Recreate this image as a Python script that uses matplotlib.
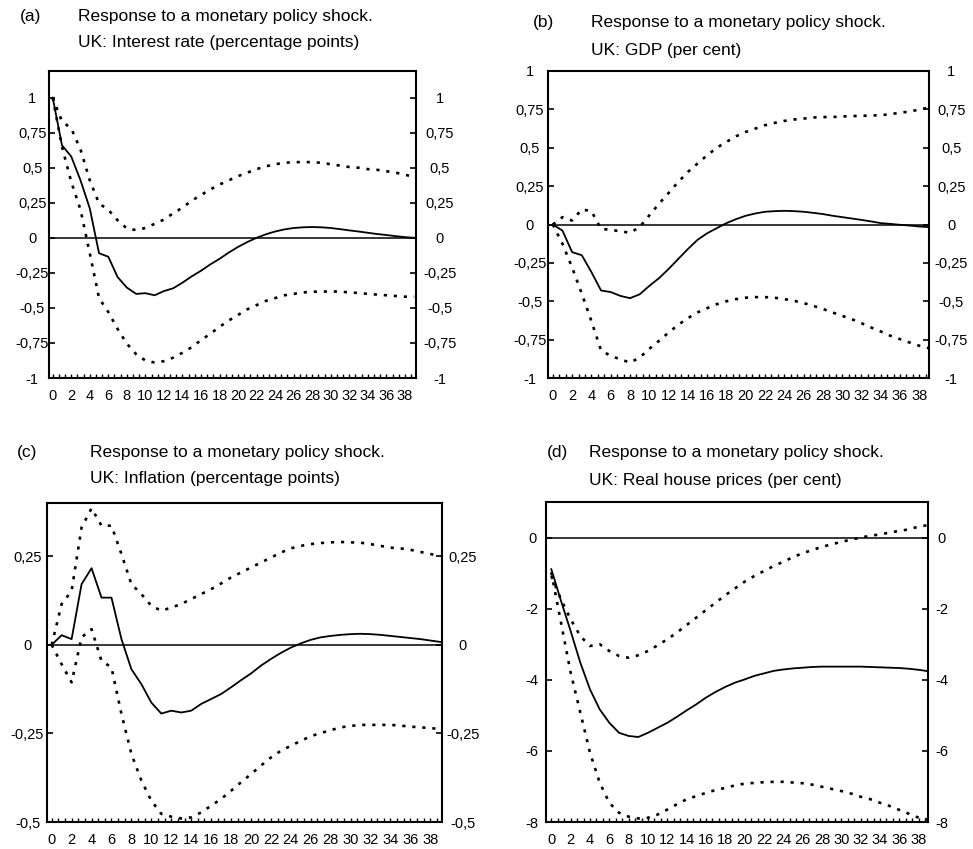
import numpy as np
import matplotlib
matplotlib.use("Agg")
import matplotlib.pyplot as plt
import matplotlib.transforms as mtransforms
from matplotlib import font_manager
from matplotlib.ticker import FixedLocator, MultipleLocator

# Horizon (quarters after the shock)
horizon = np.arange(40)

# (a) Interest rate
rate_mid = [1.0, 0.66, 0.58, 0.41, 0.21, -0.11, -0.135, -0.28, -0.355, -0.40,
            -0.395, -0.41, -0.38, -0.36, -0.32, -0.275, -0.235, -0.19, -0.15, -0.105,
            -0.065, -0.03, 0.0, 0.025, 0.045, 0.06, 0.07, 0.075, 0.077, 0.075,
            0.07, 0.062, 0.053, 0.045, 0.036, 0.027, 0.02, 0.012, 0.005, 0.0]
rate_hi = [1.0, 0.83, 0.78, 0.63, 0.41, 0.245, 0.20, 0.125, 0.067, 0.055,
           0.07, 0.10, 0.13, 0.175, 0.215, 0.265, 0.305, 0.345, 0.38, 0.41,
           0.44, 0.465, 0.49, 0.51, 0.525, 0.535, 0.54, 0.54, 0.54, 0.535,
           0.525, 0.515, 0.505, 0.50, 0.49, 0.485, 0.475, 0.465, 0.45, 0.435]
rate_lo = [1.0, 0.65, 0.40, 0.20, -0.11, -0.43, -0.53, -0.65, -0.755, -0.83,
           -0.875, -0.89, -0.88, -0.855, -0.82, -0.78, -0.73, -0.685, -0.635, -0.59,
           -0.55, -0.51, -0.48, -0.45, -0.43, -0.41, -0.40, -0.39, -0.385, -0.383,
           -0.383, -0.383, -0.39, -0.393, -0.40, -0.405, -0.41, -0.415, -0.42, -0.42]

# (b) GDP
gdp_mid = [0.0, -0.04, -0.18, -0.20, -0.31, -0.43, -0.44, -0.465, -0.48, -0.455,
           -0.40, -0.35, -0.29, -0.225, -0.16, -0.10, -0.057, -0.024, 0.009, 0.035,
           0.057, 0.072, 0.083, 0.087, 0.089, 0.087, 0.083, 0.076, 0.068, 0.057,
           0.048, 0.039, 0.03, 0.02, 0.009, 0.004, -0.002, -0.007, -0.013, -0.017]
gdp_hi = [0.0, 0.048, 0.026, 0.098, 0.087, -0.028, -0.035, -0.044, -0.054, -0.017,
          0.059, 0.135, 0.205, 0.277, 0.342, 0.397, 0.451, 0.50, 0.538, 0.575,
          0.603, 0.625, 0.647, 0.662, 0.675, 0.684, 0.69, 0.697, 0.70, 0.70,
          0.704, 0.706, 0.708, 0.71, 0.712, 0.719, 0.728, 0.736, 0.749, 0.762]
gdp_lo = [0.0, -0.126, -0.28, -0.45, -0.63, -0.82, -0.856, -0.878, -0.90, -0.867,
          -0.81, -0.758, -0.704, -0.654, -0.61, -0.573, -0.545, -0.519, -0.50, -0.486,
          -0.477, -0.473, -0.473, -0.477, -0.486, -0.497, -0.512, -0.53, -0.55, -0.573,
          -0.595, -0.617, -0.643, -0.671, -0.697, -0.725, -0.747, -0.769, -0.79, -0.806]

# (c) Inflation
infl_mid = [0.0, 0.027, 0.016, 0.171, 0.216, 0.133, 0.133, 0.016, -0.069, -0.111,
            -0.163, -0.194, -0.186, -0.191, -0.186, -0.167, -0.153, -0.139, -0.12, -0.10,
            -0.081, -0.059, -0.04, -0.023, -0.008, 0.004, 0.014, 0.021, 0.025, 0.028,
            0.03, 0.031, 0.03, 0.028, 0.025, 0.022, 0.019, 0.016, 0.012, 0.008]
infl_hi = [0.0, 0.115, 0.152, 0.331, 0.385, 0.336, 0.336, 0.256, 0.171, 0.143,
           0.11, 0.096, 0.105, 0.115, 0.129, 0.143, 0.157, 0.173, 0.19, 0.204,
           0.218, 0.232, 0.246, 0.26, 0.272, 0.279, 0.284, 0.287, 0.289, 0.29,
           0.289, 0.288, 0.284, 0.279, 0.274, 0.272, 0.268, 0.262, 0.256, 0.251]
infl_lo = [0.0, -0.055, -0.106, 0.021, 0.044, -0.045, -0.064, -0.195, -0.308, -0.383,
           -0.44, -0.477, -0.485, -0.49, -0.487, -0.473, -0.454, -0.435, -0.412, -0.388,
           -0.365, -0.341, -0.318, -0.299, -0.285, -0.271, -0.258, -0.249, -0.241, -0.233,
           -0.229, -0.226, -0.226, -0.226, -0.226, -0.228, -0.231, -0.233, -0.235, -0.238]

# (d) Real house prices
house_mid = [-0.89, -1.78, -2.63, -3.52, -4.27, -4.83, -5.21, -5.49, -5.58, -5.61,
             -5.49, -5.35, -5.21, -5.04, -4.86, -4.69, -4.50, -4.34, -4.20, -4.08,
             -3.99, -3.89, -3.82, -3.75, -3.71, -3.68, -3.66, -3.64, -3.63, -3.63,
             -3.63, -3.63, -3.63, -3.64, -3.65, -3.66, -3.67, -3.69, -3.72, -3.76]
house_hi = [-1.08, -1.74, -2.30, -2.77, -3.05, -3.0, -3.19, -3.33, -3.38, -3.31,
            -3.19, -3.03, -2.86, -2.67, -2.46, -2.25, -2.04, -1.83, -1.62, -1.43,
            -1.24, -1.08, -0.94, -0.80, -0.68, -0.55, -0.44, -0.35, -0.26, -0.19,
            -0.12, -0.06, 0.0, 0.05, 0.09, 0.14, 0.19, 0.23, 0.31, 0.35]
house_lo = [-0.98, -2.39, -3.80, -4.92, -6.05, -6.89, -7.46, -7.74, -7.85, -7.90,
            -7.88, -7.79, -7.65, -7.50, -7.36, -7.27, -7.18, -7.10, -7.04, -6.97,
            -6.92, -6.90, -6.88, -6.87, -6.87, -6.89, -6.91, -6.95, -7.01, -7.07,
            -7.13, -7.20, -7.29, -7.36, -7.46, -7.55, -7.66, -7.77, -7.88, -7.93]

subtitles = ["UK: Interest rate (percentage points)", "UK: GDP (per cent)",
             "UK: Inflation (percentage points)", "UK: Real house prices (per cent)"]
letters = ["(a)", "(b)", "(c)", "(d)"]
x_ticks = list(range(0, 39, 2))

# condensed face if there is one, else plain Liberation Sans
names = {f.name for f in font_manager.fontManager.ttflist}
if "Liberation Sans Narrow" in names:
    plt.rcParams["font.family"] = "Liberation Sans Narrow"
    tick_fs, title_fs = 11.5, 14.5
else:
    plt.rcParams["font.family"] = "Liberation Sans"
    tick_fs, title_fs = 10.5, 12.5

W, H = 973, 849
fig = plt.figure(figsize=(W / 100, H / 100), dpi=100)
fig.patch.set_facecolor("white")


def fmt(v):
    return ("%g" % v).replace(".", ",")


def panel(box, mid, hi, lo, ylim, yticks, xlim, pads, letter, sub, txt):
    l, t, r, b = box
    ax = fig.add_axes([l / W, 1 - b / H, (r - l) / W, (b - t) / H])
    ax.plot(horizon, hi, color="black", lw=1.9, ls=(0, (1.2, 2.6)))
    ax.plot(horizon, lo, color="black", lw=1.9, ls=(0, (1.2, 2.6)))
    ax.plot(horizon, mid, color="black", lw=1.3)
    ax.axhline(0, color="black", lw=1.1)
    ax.set_xlim(*xlim)
    ax.set_ylim(*ylim)
    for sp in ax.spines.values():
        sp.set_linewidth(1.5)

    ax.xaxis.set_major_locator(FixedLocator(x_ticks))
    ax.set_xticklabels([str(v) for v in x_ticks])
    ax.xaxis.set_minor_locator(MultipleLocator(2 / 3))
    ax.tick_params(axis="x", which="both", direction="in", length=3, width=1,
                   top=False, labelsize=tick_fs, pad=8)

    ax.set_yticks(yticks)
    ax.set_yticklabels([fmt(v) for v in yticks])
    ax.tick_params(axis="y", direction="in", length=4, width=1.2, right=True,
                   labelright=True, labelsize=tick_fs, pad=pads[0])
    # centred labels on both sides, right side shifted by its own offset
    off = mtransforms.ScaledTranslation((pads[1] - pads[0]) / 72, 0,
                                        fig.dpi_scale_trans)
    for tk in ax.yaxis.get_major_ticks():
        tk.label1.set_horizontalalignment("center")
        tk.label2.set_horizontalalignment("center")
        tk.label2.set_transform(tk.label2.get_transform() + off)

    (lx, ly), (tx, ty1), ty2 = txt
    fig.text(lx / W, 1 - ly / H, letter, fontsize=title_fs, va="center", ha="left")
    fig.text(tx / W, 1 - ty1 / H, "Response to a monetary policy shock.",
             fontsize=title_fs, va="center", ha="left")
    fig.text(tx / W, 1 - ty2 / H, sub, fontsize=title_fs, va="center", ha="left")
    return ax


panel((49, 71, 416, 378), rate_mid, rate_hi, rate_lo, (-1, 1.19),
      np.arange(-1, 1.01, 0.25), (-0.4, 39.2), (12, 17),
      letters[0], subtitles[0], ((20, 17), (78, 17), 43))
panel((548, 71, 929, 378), gdp_mid, gdp_hi, gdp_lo, (-1, 1),
      np.arange(-1, 1.01, 0.25), (-0.5, 39.0), (13, 16),
      letters[1], subtitles[1], ((533, 23), (591, 23), 50))
panel((47, 503, 442, 822), infl_mid, infl_hi, infl_lo, (-0.5, 0.40),
      np.arange(-0.5, 0.26, 0.25), (-0.47, 39.17), (14, 15),
      letters[2], subtitles[2], ((17, 453), (90, 453), 479))
panel((546, 502, 928, 822), house_mid, house_hi, house_lo, (-8, 1),
      np.arange(-8, 0.1, 2), (-0.55, 38.96), (10, 10),
      letters[3], subtitles[3], ((547, 453), (589, 453), 481))

fig.savefig("out.png", dpi=100, facecolor="white")
